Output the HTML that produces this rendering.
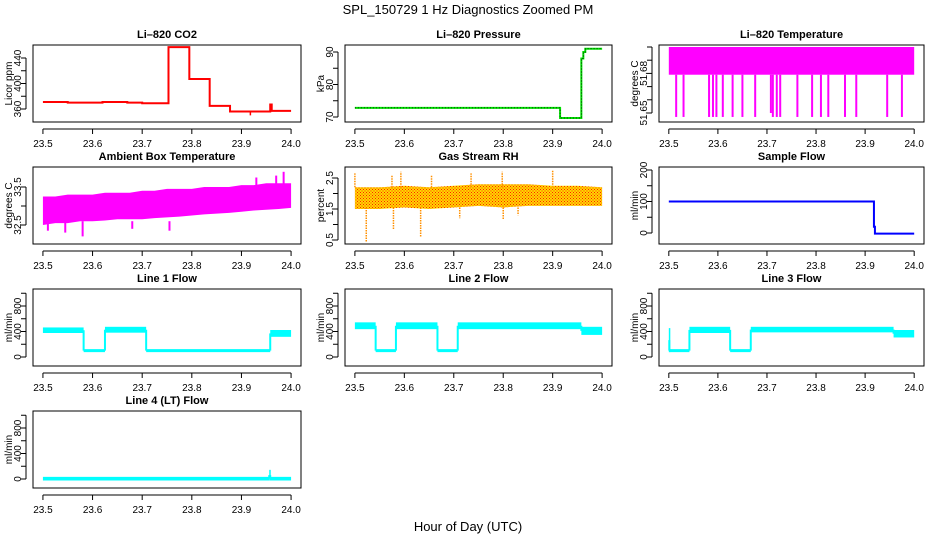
<!DOCTYPE html>
<html><head><meta charset="utf-8"><style>
html,body{margin:0;padding:0;background:#fff;}
svg{display:block;font-family:"Liberation Sans",sans-serif;}
</style></head><body>
<svg id="fig" width="936" height="540" viewBox="0 0 936 540" xmlns="http://www.w3.org/2000/svg">
<defs>
<pattern id="rhpat" width="3" height="3" patternUnits="userSpaceOnUse">
<rect width="3" height="3" fill="#ffd800"/><rect x="0" y="0" width="1" height="1" fill="#ff2000"/><rect x="1.5" y="1.5" width="1" height="1" fill="#ff2000"/>
</pattern>
</defs>
<text x="468" y="14" text-anchor="middle" font-size="13">SPL_150729  1 Hz Diagnostics Zoomed PM</text>
<text x="468" y="531" text-anchor="middle" font-size="13">Hour of Day (UTC)</text>
</svg>
<script>
// ---------- data ----------
const xTicks=[23.5,23.6,23.7,23.8,23.9,24.0];
const xTickLabels=["23.5","23.6","23.7","23.8","23.9","24.0"];
// CO2 step series
const co2X=[23.5,23.55,23.6,23.62,23.67,23.7,23.753,23.795,23.836,23.877,23.958,23.961,24.0];
const co2Y=[371,370,370,371,370,369,457,407,365,356,367,357,357];
// Pressure step series
const presX=[23.5,23.915,23.958,23.962,23.966,24.0];
const presY=[72.8,69.7,88,90,91,91];
// Li-820 temperature band and spikes
const tempBandLow=51.679, tempBandHigh=51.703;
const tempSpikeX=[23.515,23.53,23.582,23.59,23.597,23.61,23.63,23.65,23.676,23.708,23.712,23.72,23.727,23.762,23.792,23.81,23.825,23.859,23.882,23.945,23.975];
const tempSpikeY=[51.647,51.647,51.647,51.647,51.647,51.647,51.647,51.647,51.647,51.65,51.647,51.647,51.647,51.647,51.647,51.647,51.647,51.647,51.647,51.647,51.647];
// Ambient box temp envelope
const ambX=[23.5,23.525,23.55,23.575,23.6,23.625,23.65,23.675,23.7,23.725,23.75,23.775,23.8,23.825,23.85,23.875,23.9,23.925,23.95,23.975,24.0];
const ambLow=[32.5,32.55,32.55,32.6,32.6,32.62,32.65,32.65,32.65,32.68,32.7,32.72,32.75,32.78,32.8,32.82,32.85,32.88,32.9,32.92,32.95];
const ambHigh=[33.25,33.25,33.3,33.3,33.3,33.35,33.35,33.35,33.4,33.4,33.45,33.45,33.45,33.5,33.5,33.5,33.55,33.55,33.6,33.6,33.6];
const ambSpikeX=[23.51,23.58,23.545,23.68,23.755,23.93,23.97,23.985];
const ambSpikeY=[32.35,32.2,32.3,32.4,32.35,33.75,33.8,33.9];
// Gas stream RH envelope and spikes
const rhX=[23.5,23.55,23.6,23.65,23.7,23.75,23.8,23.85,23.9,23.95,24.0];
const rhLow=[1.5,1.5,1.55,1.5,1.55,1.6,1.55,1.6,1.6,1.6,1.6];
const rhHigh=[2.2,2.2,2.25,2.2,2.25,2.3,2.3,2.3,2.25,2.25,2.2];
const rhSpikeX=[23.523,23.578,23.633,23.8,23.5,23.575,23.593,23.655,23.735,23.798,23.9,23.712,23.83];
const rhSpikeY=[0.45,0.85,0.6,1.15,2.65,2.6,2.7,2.6,2.65,2.7,2.75,1.2,1.3];
// Sample flow steps
const sfX=[23.5,23.917,23.918,23.92,24.0];
const sfY=[100,100,20,-2,-2];
// Line flows: segment starts and lo/hi values per segment
const l1Start=[23.5,23.582,23.625,23.708,23.958];
const l1Lo=[400,100,405,100,340];
const l1Hi=[440,100,450,100,400];
const l2Start=[23.5,23.542,23.583,23.667,23.708,23.958];
const l2Lo=[460,100,460,100,460,370];
const l2Hi=[520,100,520,100,520,450];
const l3Start=[23.5,23.501,23.542,23.625,23.667,23.958];
const l3Lo=[100,100,400,100,410,330];
const l3Hi=[430,100,450,100,450,400];
const l4Start=[23.5,23.956,23.958];
const l4Lo=[0,0,0];
const l4Hi=[10,120,10];
const flowEnd=24.0;

// ---------- layout ----------
const svg=document.getElementById('fig');
const NS='http://www.w3.org/2000/svg';
const colL=[33,345,659], colR=[301,612,924];
const rowT=[45,167,289,411], H=77;
const X0=23.48, X1=24.02;
function mk(tag,attrs,parent){const e=document.createElementNS(NS,tag);for(const k in attrs)e.setAttribute(k,attrs[k]);(parent||svg).appendChild(e);return e;}

function panel(name,col,row,title,ylab,vA,pA,vB,pB,yTicks,yLabels){
  const g=mk('g',{});
  
  
  const L=colL[col],R=colR[col],T=rowT[row],B=T+H;
  const xs=v=>L+(v-X0)/(X1-X0)*(R-L);
  const ys=v=>T+pA+(v-vA)*(pB-pA)/(vB-vA);
  const t=mk('text',{x:(L+R)/2,y:T-7,'text-anchor':'middle','font-size':'11','font-weight':'bold'},g);
  t.textContent=title;
  
  
  const box=mk('rect',{x:L,y:T,width:R-L,height:H,fill:'none',stroke:'#000','stroke-width':1},g);
  
  
  const xa=mk('g',{},g);
  
  
  mk('line',{x1:xs(xTicks[0]),x2:xs(xTicks[xTicks.length-1]),y1:B+7,y2:B+7,stroke:'#000'},xa);
  xTicks.forEach((v,i)=>{
    mk('line',{x1:xs(v),x2:xs(v),y1:B+7,y2:B+12,stroke:'#000'},xa);
    const tl=mk('text',{x:xs(v),y:B+25,'text-anchor':'middle','font-size':'10'},xa);
    tl.textContent=xTickLabels[i];
    
    
  });
  const ya=mk('g',{},g);
  
  
  mk('line',{x1:L-7,x2:L-7,y1:ys(yTicks[0]),y2:ys(yTicks[yTicks.length-1]),stroke:'#000'},ya);
  yTicks.forEach((v,i)=>{
    mk('line',{x1:L-12,x2:L-7,y1:ys(v),y2:ys(v),stroke:'#000'},ya);
    if(yLabels[i]){
      const tl=mk('text',{x:0,y:0,'text-anchor':'middle','font-size':'10',transform:`translate(${L-12},${ys(v)}) rotate(-90)`},ya);
      tl.textContent=yLabels[i];
      
      
    }
  });
  const yl=mk('text',{x:0,y:0,'text-anchor':'middle','font-size':'10',transform:`translate(${L-21},${T+H/2}) rotate(-90)`},g);
  yl.textContent=ylab;
  
  
  const cg=mk('g',{'clip-path':''},g);
  
  
  return {xs,ys,g:cg,T,B};
}
function stepPath(p,X,Y){let d=`M${p.xs(X[0])},${p.ys(Y[0])}`;for(let i=1;i<X.length;i++){d+=`H${p.xs(X[i])}V${p.ys(Y[i])}`;}return d;}
function flow(p,S,Lo,Hi,color){
  for(let i=0;i<S.length;i++){
    const x0=p.xs(S[i]),x1=p.xs(i+1<S.length?S[i+1]:flowEnd);
    const yl=p.ys(Lo[i]),yh=p.ys(Hi[i]);
    const r=mk('rect',{x:x0,y:Math.min(yl,yh)-1.5,width:Math.max(x1-x0,1.5),height:Math.abs(yl-yh)+3,fill:color},p.g);
    
    
    if(i+1<S.length){
      const ny=p.ys((Lo[i+1]+Hi[i+1])/2), cy=p.ys((Lo[i]+Hi[i])/2);
      const v=mk('line',{x1:x1,x2:x1,y1:cy,y2:ny,stroke:color,'stroke-width':2},p.g);
      
      
    }
  }
}

// CO2
let p=panel('co2',0,0,'Li\u2013820 CO2','Licor ppm',360,64,440,13,[360,380,400,420,440],['360','','400','','440']);
let e=mk('path',{d:stepPath(p,co2X,co2Y),fill:'none',stroke:'#ff0000','stroke-width':2},p.g);


e=mk('line',{x1:p.xs(23.918),x2:p.xs(23.918),y1:p.ys(356),y2:p.ys(350),stroke:'#ff0000','stroke-width':1.5},p.g);



// Pressure
p=panel('pressure',1,0,'Li\u2013820 Pressure','kPa',70,72,90,7,[70,75,80,85,90],['70','','80','','90']);
e=mk('path',{d:stepPath(p,presX,presY),fill:'none',stroke:'#00e000','stroke-width':2},p.g);


e=mk('path',{d:stepPath(p,presX,presY),fill:'none',stroke:'#000','stroke-width':0.8,'stroke-dasharray':'1 2'},p.g);



// Li-820 Temperature
p=panel('li820-temp',2,0,'Li\u2013820 Temperature','degrees C',51.65,68,51.70,2,[51.65,51.66,51.67,51.68,51.69,51.70],['51.65','','','51.68','','']);
{const top=Math.max(p.ys(tempBandHigh),p.T+2);
e=mk('rect',{x:p.xs(23.5),y:top,width:p.xs(24.0)-p.xs(23.5),height:p.ys(tempBandLow)-top,fill:'#ff00ff'},p.g);

}
tempSpikeX.forEach((x,i)=>{
  const s=mk('line',{x1:p.xs(x),x2:p.xs(x),y1:p.ys(tempBandLow),y2:Math.min(p.ys(tempSpikeY[i]),p.B-2),stroke:'#ff00ff','stroke-width':2},p.g);
  
  
});

// Ambient
p=panel('ambient-temp',0,1,'Ambient Box Temperature','degrees C',32.5,58,33.5,20,[32.5,33.0,33.5],['32.5','','33.5']);
{let d='M'+ambX.map((x,i)=>`${p.xs(x)},${p.ys(ambHigh[i])}`).join('L');
 for(let i=ambX.length-1;i>=0;i--)d+=`L${p.xs(ambX[i])},${p.ys(ambLow[i])}`;
 e=mk('path',{d:d+'Z',fill:'#ff00ff'},p.g);
 
 }
ambSpikeX.forEach((x,i)=>{
  const base=ambSpikeY[i]<33?32.6:33.4;
  const s=mk('line',{x1:p.xs(x),x2:p.xs(x),y1:p.ys(base),y2:p.ys(ambSpikeY[i]),stroke:'#ff00ff','stroke-width':2},p.g);
  
  
});

// RH
p=panel('rh',1,1,'Gas Stream RH','percent',0.5,73,2.5,11,[0.5,1.0,1.5,2.0,2.5],['0.5','','1.5','','2.5']);
{let d='M'+rhX.map((x,i)=>`${p.xs(x)},${p.ys(rhHigh[i])}`).join('L');
 for(let i=rhX.length-1;i>=0;i--)d+=`L${p.xs(rhX[i])},${p.ys(rhLow[i])}`;
 e=mk('path',{d:d+'Z',fill:'url(#rhpat)'},p.g);
 
 }
rhSpikeX.forEach((x,i)=>{
  const base=rhSpikeY[i]<1.8?1.55:2.2;
  const s=mk('line',{x1:p.xs(x),x2:p.xs(x),y1:p.ys(base),y2:p.ys(rhSpikeY[i]),stroke:'#ff9000','stroke-width':1.5,'stroke-dasharray':'1.5 1'},p.g);
  
  
});

// Sample flow
p=panel('sample-flow',2,1,'Sample Flow','ml/min',0,66,200,3,[0,50,100,150,200],['0','','100','','200']);
e=mk('path',{d:stepPath(p,sfX,sfY),fill:'none',stroke:'#0000ff','stroke-width':2},p.g);



const fT=[0,200,400,600,800,1000], fL=['0','','400','','800',''];
p=panel('line1-flow',0,2,'Line 1 Flow','ml/min',0,68,800,17,fT,fL); flow(p,l1Start,l1Lo,l1Hi,'#00ffff');
p=panel('line2-flow',1,2,'Line 2 Flow','ml/min',0,68,800,17,fT,fL); flow(p,l2Start,l2Lo,l2Hi,'#00ffff');
p=panel('line3-flow',2,2,'Line 3 Flow','ml/min',0,68,800,17,fT,fL); flow(p,l3Start,l3Lo,l3Hi,'#00ffff');
p=panel('line4-flow',0,3,'Line 4 (LT) Flow','ml/min',0,68,800,17,fT,fL); flow(p,l4Start,l4Lo,l4Hi,'#00ffff');
</script>
</body></html>
